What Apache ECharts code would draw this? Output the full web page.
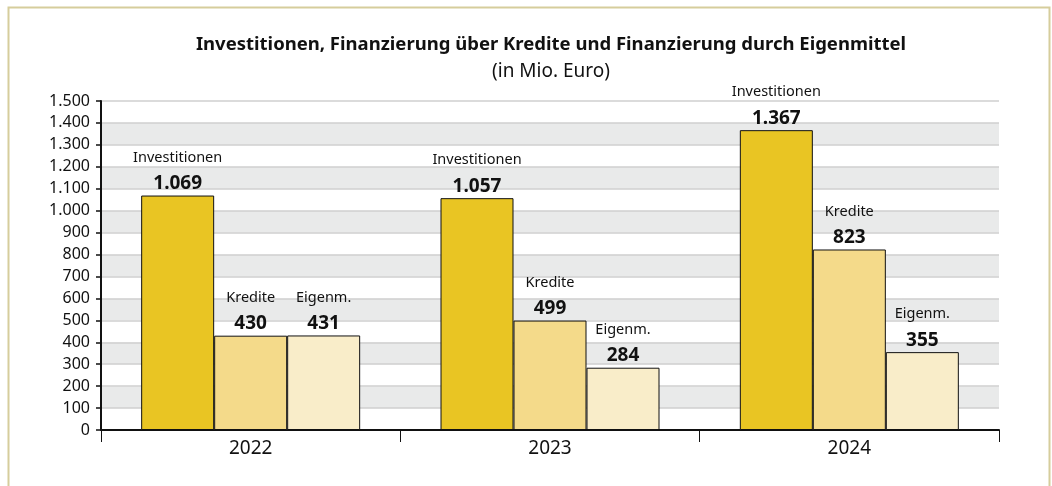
<!doctype html>
<html>
    <head>
        <meta charset="utf-8">
        <title>Investitionen und Finanzierung</title>
        <style>
            html, body { margin: 0; padding: 0; background: #fff; }
            #main { width: 1052px; height: 486px; }
        </style>
    </head>
    <body>
        <div id="main"></div>
        <script src="https://cdn.jsdelivr.net/npm/echarts@6/dist/echarts.min.js"></script>
        <script>
            var years = ['2022', '2023', '2024'];
            var seriesNames = ['Investitionen', 'Kredite', 'Eigenm.'];
            var investitionen = [1069, 1057, 1367];
            var kredite = [430, 499, 823];
            var eigenmittel = [431, 284, 355];
            var barColors = ['#e9c523', '#f4da8a', '#f9edc9'];

            function fmt(v) {
                return String(v).replace(/\B(?=(\d{3})+(?!\d))/g, '.');
            }

            var chart = echarts.init(document.getElementById('main'));
            var font = '"Noto Sans", sans-serif';

            var seriesData = [investitionen, kredite, eigenmittel];
            var series = seriesData.map(function (values, i) {
                return {
                    name: seriesNames[i],
                    type: 'bar',
                    data: values,
                    barWidth: 73,
                    barGap: '0%',
                    itemStyle: {
                        color: barColors[i],
                        borderColor: '#111',
                        borderWidth: 1
                    },
                    label: {
                        show: true,
                        position: 'top',
                        distance: 1,
                        formatter: function (p) {
                            return '{n|' + p.seriesName + '}\n{v|' + fmt(p.value) + '}';
                        },
                        rich: {
                            n: { fontFamily: font, fontSize: 14.5, color: '#111', lineHeight: 30 },
                            v: { fontFamily: font, fontSize: 19, fontWeight: 'bold', color: '#111', lineHeight: 22 }
                        }
                    }
                };
            });

            chart.setOption({
                backgroundColor: '#fff',
                animation: false,
                graphic: [{
                    type: 'rect',
                    left: 6,
                    top: 5,
                    shape: { width: 1041, height: 500 },
                    style: { fill: null, stroke: '#d6cd9c', lineWidth: 2 },
                    silent: true
                }, {
                    type: 'text',
                    x: 551,
                    y: 45,
                    style: {
                        text: 'Investitionen, Finanzierung über Kredite und Finanzierung durch Eigenmittel',
                        fontFamily: font, fontSize: 18.5, fontWeight: 'bold', fill: '#111',
                        align: 'center', verticalAlign: 'middle'
                    },
                    silent: true
                }, {
                    type: 'text',
                    x: 551,
                    y: 72,
                    style: {
                        text: '(in Mio. Euro)',
                        fontFamily: font, fontSize: 19, fill: '#111',
                        align: 'center', verticalAlign: 'middle'
                    },
                    silent: true
                }],
                grid: {
                    left: 101,
                    right: 53,
                    top: 101,
                    bottom: 56
                },
                xAxis: {
                    type: 'category',
                    data: years,
                    axisLine: { lineStyle: { color: '#111', width: 2 } },
                    axisTick: { show: true, length: 12, lineStyle: { color: '#111', width: 1 } },
                    axisLabel: { fontFamily: font, fontSize: 19, color: '#111', margin: 9 }
                },
                yAxis: {
                    type: 'value',
                    min: 0,
                    max: 1500,
                    interval: 100,
                    axisLine: { show: true, lineStyle: { color: '#111', width: 2 } },
                    axisTick: { show: true, length: 5, lineStyle: { color: '#111', width: 1.5 } },
                    axisLabel: {
                        fontFamily: font, fontSize: 16, color: '#111', margin: 11,
                        formatter: function (v) { return fmt(v); }
                    },
                    splitLine: { lineStyle: { color: '#cfcfcf', width: 1.5 } },
                    splitArea: { show: true, areaStyle: { color: ['#ffffff', '#e9eaea'] } }
                },
                series: series
            });

            window.onresize = chart.resize;
        </script>
    </body>
</html>
